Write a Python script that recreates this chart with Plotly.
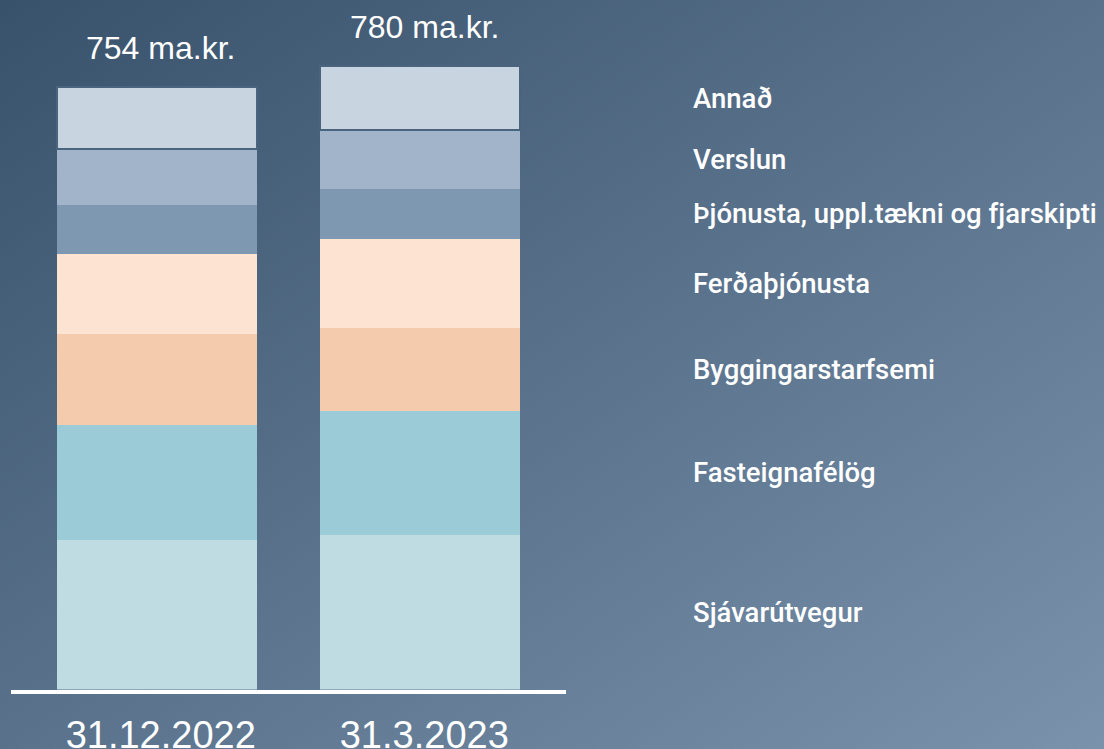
import base64
import numpy as np
import plotly.graph_objects as go

dates = ["31.12.2022", "31.3.2023"]
totals = [754, 780]
sectors = ["Sjávarútvegur", "Fasteignafélög", "Byggingarstarfsemi", "Ferðaþjónusta",
           "Þjónusta, uppl.tækni og fjarskipti", "Verslun", "Annað"]
sjavarutvegur = [187, 194]
fasteignafelog = [144, 154]
byggingarstarfsemi = [114, 105]
ferdathjonusta = [100, 111]
thjonusta = [61, 63]
verslun = [70, 73]
annad = [78, 80]
colors = ["#bedce1", "#9acbd6", "#f4cbad", "#fce3d2", "#7e98b2", "#a2b4c9", "#c8d4df"]

series = [sjavarutvegur, fasteignafelog, byggingarstarfsemi, ferdathjonusta, thjonusta, verslun, annad]

bg = "#46607a"
svg = ('<svg xmlns="http://www.w3.org/2000/svg" width="1104" height="749" preserveAspectRatio="none">'
       '<defs><linearGradient id="g" x1="0" y1="0" x2="1" y2="1">'
       '<stop offset="0" stop-color="#39526c"/><stop offset="1" stop-color="#7a92ac"/>'
       '</linearGradient></defs><rect width="1104" height="749" fill="url(#g)"/></svg>')
src = "data:image/svg+xml;base64," + base64.b64encode(svg.encode()).decode()

fig = go.Figure()
for name, vals, col in zip(sectors, series, colors):
    line = dict(width=0)
    if name == "Annað":
        line = dict(width=2, color="#4a6480")
    fig.add_trace(go.Bar(x=[0, 1], y=vals, name=name, marker=dict(color=col, line=line),
                         width=0.758, hoverinfo="skip"))

font_lbl = "Roboto, 'Open Sans', sans-serif"
annotations = []
for i, t in enumerate(totals):
    stack = sum(s[i] for s in series)
    annotations.append(dict(x=i, y=stack, xref="x", yref="y", text=f"{t} ma.kr.",
                            showarrow=False, yanchor="bottom", yshift=19, xshift=4,
                            font=dict(family="Arial, 'Liberation Sans', sans-serif", size=32, color="white")))
cum = np.cumsum([s[1] for s in series])
for name, vals, c in zip(sectors, series, cum):
    annotations.append(dict(x=693 / 1104, xref="paper", y=c - vals[1] / 2, yref="y", text=name,
                            showarrow=False, xanchor="left", yanchor="middle", xshift=-2,
                            font=dict(family=font_lbl, size=27.5, color="white", weight=500)))

fig.update_layout(
    width=1104, height=749, barmode="stack", showlegend=False,
    margin=dict(l=0, r=0, t=0, b=0, autoexpand=False),
    paper_bgcolor=bg, plot_bgcolor="rgba(0,0,0,0)",
    images=[dict(source=src, xref="paper", yref="paper", x=0, y=1, sizex=1, sizey=1,
                 sizing="stretch", xanchor="left", yanchor="top", layer="below")],
    xaxis=dict(domain=[11 / 1104, 566 / 1104], range=[-0.553, 1.553], tickmode="array",
               tickvals=[0, 1], ticktext=dates, showgrid=False, zeroline=False,
               showline=True, linecolor="white", linewidth=4, ticks="", automargin=False,
               tickfont=dict(family="Arial, 'Liberation Sans', sans-serif", size=38, color="white"),
               ticklabelstandoff=9, ticklabelshift=4),
    yaxis=dict(domain=[1 - 689.5 / 749, 1], range=[0, 863], visible=False, showgrid=False,
               zeroline=False, automargin=False),
    annotations=annotations,
)
fig.write_html("out.html", config={"displayModeBar": False},
               post_script="document.body.style.margin='0';document.body.style.overflow='hidden';")
